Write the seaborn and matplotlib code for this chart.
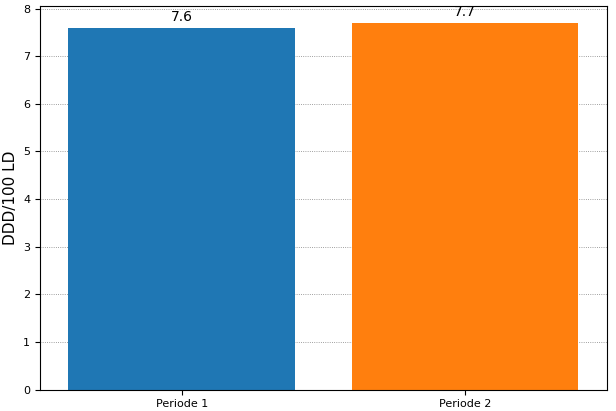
import matplotlib
matplotlib.use("Agg")
import matplotlib.pyplot as plt
import seaborn as sns
import pandas as pd

periods = ["Periode 1", "Periode 2"]
values = [7.6, 7.7]
colors = ["#1f77b4", "#ff7f0e"]

df = pd.DataFrame({"period": periods, "value": values})
fig, ax = plt.subplots(figsize=(6.16, 4.11), dpi=100)
fig.subplots_adjust(left=0.065, right=0.985, top=0.985, bottom=0.052)
sns.barplot(data=df, x="period", y="value", hue="period", palette=colors, legend=False, ax=ax, width=0.8, saturation=1)
ax.set_ylim(0, 8.05)
ax.set_xlabel("")
ax.set_ylabel("DDD/100 LD", fontsize=11)
ax.yaxis.grid(True, linestyle=":", linewidth=0.6, color="gray")
ax.set_axisbelow(True)
ax.tick_params(labelsize=8)
for i, v in enumerate(values):
    ax.text(i, v + 0.08, f"{v}", ha="center", va="bottom", fontsize=10)
fig.savefig("out.png", dpi=100)
